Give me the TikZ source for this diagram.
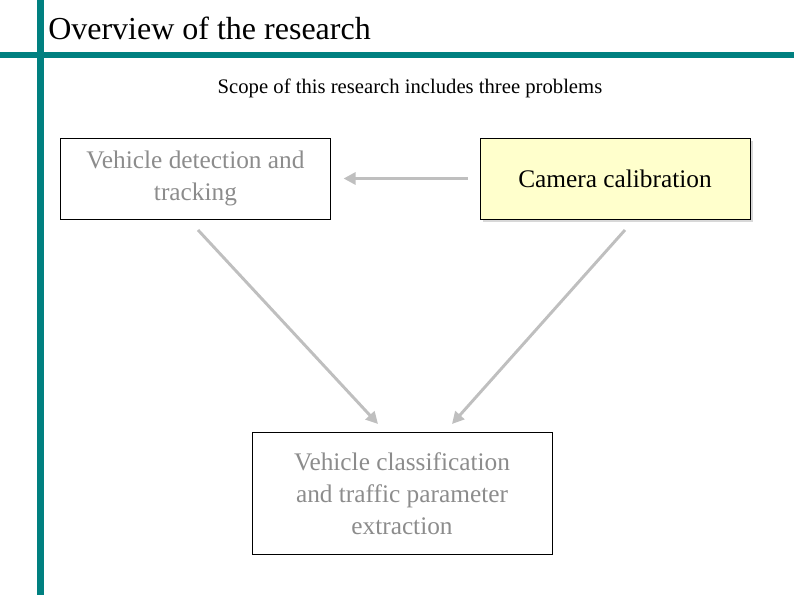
\documentclass[tikz,border=0pt]{standalone}
\usepackage{fontspec}
\setmainfont{Liberation Serif}
\usetikzlibrary{positioning,arrows.meta,shadows}
\definecolor{barteal}{RGB}{0,128,128}
\definecolor{paleyellow}{RGB}{255,255,204}
\begin{document}
\begin{tikzpicture}[
        x=0.75pt, y=-0.75pt,
        box/.style={rectangle, draw=black, line width=0.6pt, minimum width=202.5pt, minimum height=60.75pt, align=center, font=\fontsize{19}{24}\selectfont},
        greytext/.style={text=black!45},
        arrow/.style={-{Triangle[length=9pt,width=9pt]}, line width=2.2pt, color=black!25}
    ]
    \useasboundingbox (0,0) rectangle (794,595);
    % frame bars
    \fill[barteal] (37,0) rectangle (44,595);
    \fill[barteal] (0,52) rectangle (794,58);
    \node[anchor=base west, font=\fontsize{24}{28}\selectfont, inner sep=0pt] (title) at (48,40) {Overview of the research};
    \node[font=\fontsize{15.5}{18}\selectfont] (scope) at (410,88) {Scope of this research includes three problems};
    % boxes
    \node[box, greytext] (detect) at (195.5,178.5) {Vehicle detection and\\tracking};
    \node[box, fill=paleyellow, drop shadow={shadow xshift=2pt, shadow yshift=-2pt, fill=black!30}] (calib) at (615,178.5) {Camera calibration};
    \node[box, greytext, minimum width=225pt, minimum height=92pt] (classify) at (402,493.5) {Vehicle classification\\and traffic parameter\\extraction};
    % arrow ends
    \coordinate (detectout) at (198,230);
    \coordinate (calibout) at (625,230);
    \coordinate (classleft) at (378,424);
    \coordinate (classright) at (452,424);
    \draw[arrow, shorten <=9pt, shorten >=9.5pt] (calib.west) -- (detect.east);
    \draw[arrow] (detectout) -- (classleft);
    \draw[arrow] (calibout) -- (classright);
\end{tikzpicture}
\end{document}
